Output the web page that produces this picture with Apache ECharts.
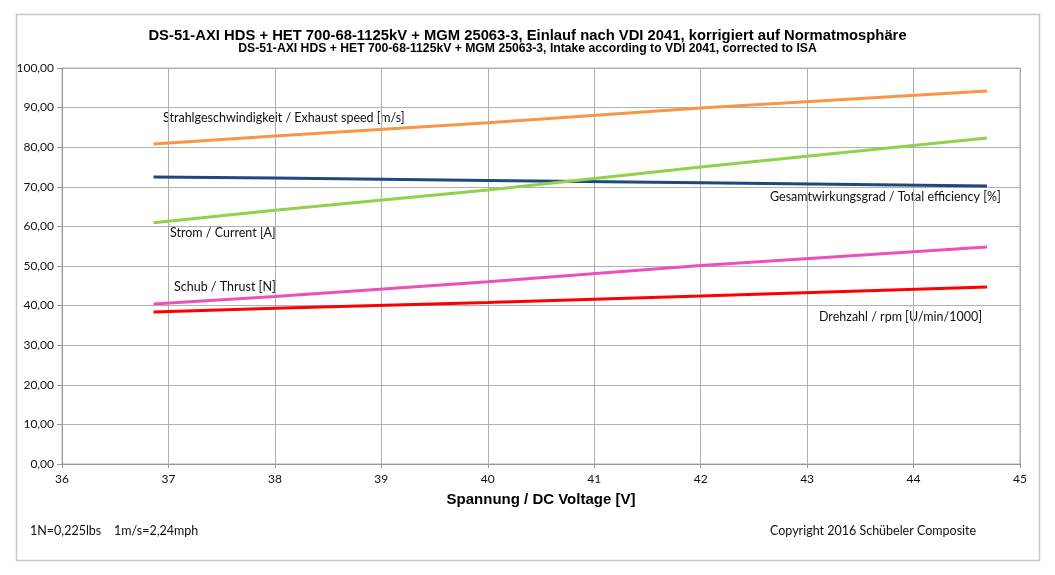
<!DOCTYPE html>
<html>
<head>
<meta charset="utf-8">
<script src="https://cdn.jsdelivr.net/npm/echarts@6/dist/echarts.min.js"></script>
<style>
  html, body { margin: 0; padding: 0; background: #fff; }
  #chart { width: 1055px; height: 575px; }
</style>
</head>
<body>
<div id="chart"></div>
<script>
// Spannung / DC Voltage [V]
var voltage = [36.86, 38, 40, 42, 44.69];
// Werte
var exhaustSpeed = [80.8, 82.8, 86.2, 89.9, 94.2];
var current = [60.9, 64.1, 69.2, 75.0, 82.3];
var efficiency = [72.5, 72.2, 71.6, 71.0, 70.2];
var thrust = [40.4, 42.3, 46.0, 50.1, 54.8];
var rpm = [38.4, 39.3, 40.8, 42.4, 44.7];

var seriesNames = [
  "Strahlgeschwindigkeit / Exhaust speed [m/s]",
  "Strom / Current [A]",
  "Gesamtwirkungsgrad / Total efficiency [%]",
  "Schub / Thrust [N]",
  "Drehzahl / rpm [U/min/1000]"
];
var seriesData = [exhaustSpeed, current, efficiency, thrust, rpm];
var colors = ["#f79646", "#92d050", "#1f497d", "#ee4fbf", "#ff0000"];

function pairs(ys) {
  return voltage.map(function (x, i) { return [x, ys[i]]; });
}

var chart = echarts.init(document.getElementById("chart"));

var labelFont = "Lato, 'Open Sans', sans-serif";
var textFont = "12.5px " + labelFont;

var option = {
  animation: false,
  backgroundColor: "#fff",
  title: [
    {
      text: "DS-51-AXI HDS + HET 700-68-1125kV + MGM 25063-3, Einlauf nach VDI 2041, korrigiert auf Normatmosphäre",
      left: "center",
      top: 23,
      textStyle: { fontFamily: "'Liberation Sans', Arial, sans-serif", fontSize: 14.8, fontWeight: "bold", color: "#000" }
    },
    {
      text: "DS-51-AXI HDS + HET 700-68-1125kV + MGM 25063-3, Intake according to VDI 2041, corrected to ISA",
      left: "center",
      top: 38,
      textStyle: { fontFamily: "'Liberation Sans', Arial, sans-serif", fontSize: 12.2, fontWeight: "bold", color: "#000" }
    }
  ],
  grid: { left: 62, top: 68, width: 958, height: 396, show: true, borderColor: "#b0b0b0", borderWidth: 1 },
  xAxis: {
    type: "value",
    min: 36,
    max: 45,
    interval: 1,
    name: "Spannung / DC Voltage [V]",
    nameLocation: "middle",
    nameGap: 28,
    nameTextStyle: { fontFamily: "'Liberation Sans', Arial, sans-serif", fontSize: 15, fontWeight: "bold", color: "#000" },
    axisLine: { lineStyle: { color: "#999", width: 1 } },
    axisTick: { show: true, length: 4, lineStyle: { color: "#999" } },
    axisLabel: { fontFamily: labelFont, fontSize: 12, color: "#111", margin: 9 },
    splitLine: { show: true, lineStyle: { color: "#b0b0b0", width: 1 } }
  },
  yAxis: {
    type: "value",
    min: 0,
    max: 100,
    interval: 10,
    axisLine: { show: true, lineStyle: { color: "#999", width: 1 } },
    axisTick: { show: true, length: 5, lineStyle: { color: "#999" } },
    axisLabel: {
      fontFamily: labelFont, fontSize: 12, color: "#111", margin: 8,
      formatter: function (v) { return v.toFixed(2).replace(".", ","); }
    },
    splitLine: { show: true, lineStyle: { color: "#b0b0b0", width: 1 } }
  },
  series: seriesNames.map(function (name, i) {
    return {
      name: name,
      type: "line",
      data: pairs(seriesData[i]),
      symbol: "none",
      smooth: false,
      lineStyle: { color: colors[i], width: 3 },
      itemStyle: { color: colors[i] },
      z: 5 - i
    };
  }),
  graphic: [
    { type: "rect", shape: { x: 16.5, y: 14.5, width: 1023, height: 546 }, style: { fill: "none", stroke: "#c8c8c8", lineWidth: 1.5 }, z: -1 },
    { type: "text", left: 163, top: 111, style: { text: seriesNames[0], font: textFont, fill: "#111" } },
    { type: "text", left: 770, top: 190, style: { text: seriesNames[2], font: textFont, fill: "#111" } },
    { type: "text", left: 170, top: 226, style: { text: seriesNames[1], font: textFont, fill: "#111" } },
    { type: "text", left: 174, top: 280, style: { text: seriesNames[3], font: textFont, fill: "#111" } },
    { type: "text", left: 819, top: 310, style: { text: seriesNames[4], font: textFont, fill: "#111" } },
    { type: "text", left: 30, top: 524, style: { text: "1N=0,225lbs    1m/s=2,24mph", font: textFont, fill: "#111" } },
    { type: "text", left: 770, top: 524, style: { text: "Copyright 2016 Schübeler Composite", font: textFont, fill: "#111" } }
  ]
};

chart.setOption(option);
</script>
</body>
</html>
